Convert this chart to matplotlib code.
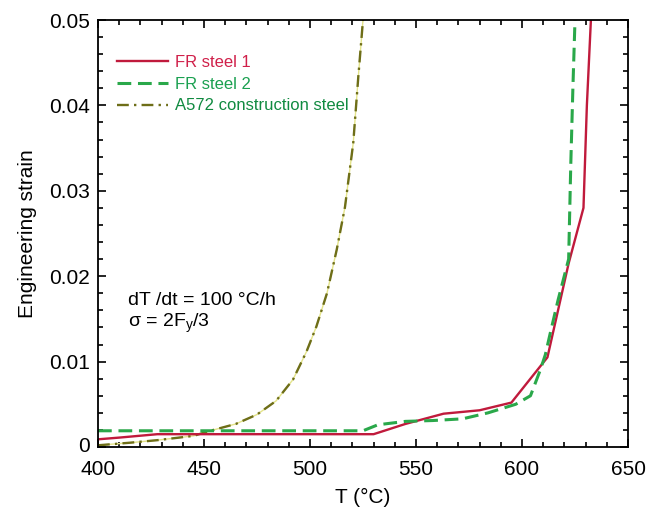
from matplotlib import pyplot as plt
from matplotlib import transforms
from matplotlib.ticker import MultipleLocator
import numpy as np

# values
t_fr1 = [400, 410, 428, 530, 545, 563, 580, 595, 612, 622, 629, 630.6, 632.5]
eps_fr1 = [0.0009, 0.0011, 0.0015, 0.0015, 0.0027, 0.0039, 0.0043, 0.0052,
           0.0105, 0.0215, 0.028, 0.040, 0.050]

t_fr2 = [400, 525, 532, 545, 558, 572, 584, 597, 604, 608.6, 611, 613.3, 617,
         622, 623, 624, 625]
eps_fr2 = [0.0019, 0.0019, 0.0026, 0.0030, 0.0031, 0.0033, 0.0040, 0.0050,
           0.0060, 0.009, 0.0108, 0.0133, 0.0172, 0.022, 0.033, 0.042, 0.050]

t_a572 = [400, 415, 428, 445, 453, 465, 475, 484, 492, 498.4, 503, 508, 512.6,
          516.5, 520.4, 522.8, 525]
eps_a572 = [0.0002, 0.0005, 0.0008, 0.0013, 0.0019, 0.0027, 0.0038, 0.0054,
            0.0079, 0.0112, 0.0141, 0.018, 0.0231, 0.0281, 0.0356, 0.0434, 0.050]

labels = ["FR steel 1", "FR steel 2", "A572 construction steel"]
xticks = [400, 450, 500, 550, 600, 650]
yticks = [0, 0.01, 0.02, 0.03, 0.04, 0.05]
yticklabels = ["0", "0.01", "0.02", "0.03", "0.04", "0.05"]

plt.rcParams['font.family'] = ["Liberation Sans", "DejaVu Sans"]

fig = plt.figure(figsize=(6.55, 5.07), dpi=100)
ax = fig.add_axes([98/655, 60/507, 530/655, 427/507])

# A572: olive dash-dot over a faint yellow line
ax.plot(t_a572, eps_a572, color="#e4e48a", lw=1.0)
ax.plot(t_a572, eps_a572, color="#6e6e18", lw=1.7, ls=(0, (5, 2.2, 1, 2.2)), label=labels[2])
ax.plot(t_fr1, eps_fr1, color="#c01a3c", lw=1.7, label=labels[0])
ax.plot(t_fr2, eps_fr2, color="#2aa84a", lw=2.2, ls=(0, (4.5, 2.2)), label=labels[1])

ax.set_xlim(400, 650)
ax.set_ylim(0, 0.05)
ax.set_xticks(xticks)
ax.set_yticks(yticks)
ax.set_yticklabels(yticklabels)
ax.xaxis.set_minor_locator(MultipleLocator(10))
ax.yaxis.set_minor_locator(MultipleLocator(0.002))
ax.tick_params(which="both", direction="in", top=True, right=True, labelsize=15, width=1.2)
ax.tick_params(which="major", length=6)
ax.tick_params(which="minor", length=3.5)
ax.tick_params(axis="x", pad=9.5)
ax.tick_params(axis="y", pad=5.5)
for s in ax.spines.values():
    s.set_linewidth(1.3)

ax.set_xlabel("T (°C)", fontsize=15, labelpad=6.5)
ax.set_ylabel("Engineering strain", fontsize=15, labelpad=9)

h, l = ax.get_legend_handles_labels()
order = [1, 2, 0]
leg = ax.legend([h[i] for i in order], [l[i] for i in order], loc="upper left",
                bbox_to_anchor=(0.035, 0.918), frameon=False, borderpad=0, borderaxespad=0,
                handlelength=3.1, handletextpad=0.4, labelspacing=0.4, fontsize=12)
for txt, c in zip(leg.get_texts(), ["#d0204a", "#1aa050", "#108a40"]):
    txt.set_color(c)

ax.text(0.057, 0.344, "dT /dt = 100 °C/h", transform=ax.transAxes, fontsize=14,
        ha="left", va="center")
ax.text(0.057, 0.29, r"σ = 2F$_\mathregular{y}$/3", transform=ax.transAxes, fontsize=14,
        ha="left", va="center")

# the "0" label sits a bit above the corner in the reference
lab0 = ax.yaxis.get_major_ticks()[0].label1
lab0.set_transform(lab0.get_transform() + transforms.ScaledTranslation(0, 3/100, fig.dpi_scale_trans))

fig.savefig("out.png", dpi=100)
plt.close()
